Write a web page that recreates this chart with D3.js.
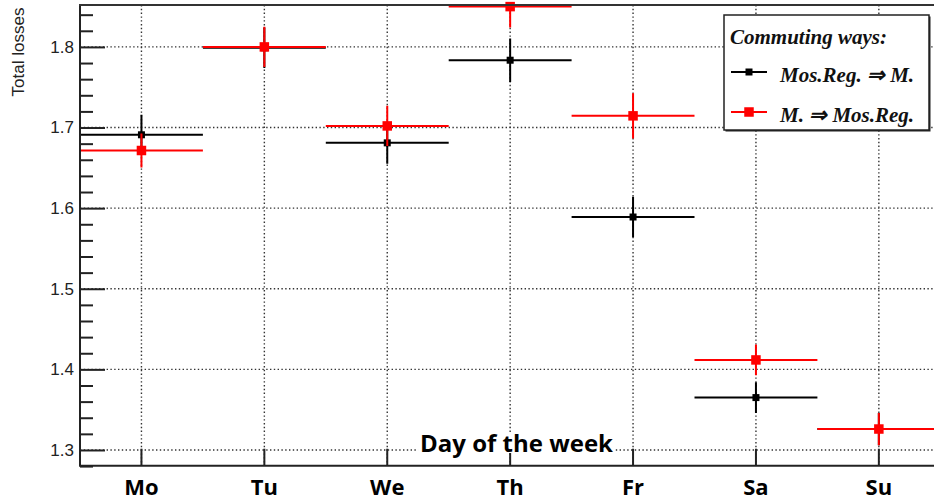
<!DOCTYPE html>
<html><head><meta charset="utf-8">
<script src="https://cdn.jsdelivr.net/npm/d3@7"></script>
<style>body{margin:0;background:#fff}svg{display:block}</style>
</head><body>
<svg id="c" width="934" height="501"></svg>
<script>
const days = ["Mo","Tu","We","Th","Fr","Sa","Su"];
const blackVals = [1.691,1.799,1.681,1.7835,1.589,1.365,1.326];
const blackErr  = [0.025,0.025,0.026,0.027,0.025,0.019,0.020];
const redVals   = [1.6715,1.800,1.702,1.850,1.7145,1.4117,1.326];
const redErr    = [0.021,0.025,0.025,0.026,0.028,0.019,0.020];
const yTicks = [1.3,1.4,1.5,1.6,1.7,1.8];
const seriesNames = ["Mos.Reg. \u21D2 M.","M. \u21D2 Mos.Reg."];
const legendTitle = "Commuting ways:";

const svg = d3.select("#c");
const L = 80, T = 5, B = 465.7, R = 940.3;
const x = d3.scaleBand().domain(days).range([L,R]).paddingInner(0).paddingOuter(0);
const y = d3.scaleLinear().domain([1.2805,1.852]).range([B,T]);

svg.append("defs").append("clipPath").attr("id","pc")
  .append("rect").attr("x",L).attr("y",T).attr("width",R-L).attr("height",B-T);

// grid
const grid = svg.append("g").attr("stroke","#333").attr("stroke-width",1.4).attr("stroke-dasharray","1.4,2.4");
grid.selectAll("line.h").data(yTicks).join("line").attr("class","h")
  .attr("x1",L).attr("x2",R).attr("y1",d=>y(d)).attr("y2",d=>y(d));
grid.selectAll("line.v").data(days).join("line").attr("class","v")
  .attr("x1",d=>x(d)+x.bandwidth()/2).attr("x2",d=>x(d)+x.bandwidth()/2).attr("y1",T).attr("y2",B);

// y axis
const yMinor = d3.range(1.28,1.8501,0.02).map(v=>+v.toFixed(2));
const yAx = d3.axisLeft(y).tickValues(yTicks).tickSize(-25).tickFormat(d3.format(".1f")).tickPadding(6);
const gy = svg.append("g").attr("transform",`translate(${L},0)`).call(yAx);
gy.select(".domain").remove();
gy.selectAll(".tick line").attr("stroke","#222").attr("stroke-width",2);
gy.selectAll(".tick text").attr("font-family","Liberation Sans, Arial, sans-serif").attr("font-size",17).attr("fill","#222");
const gyMinor = svg.append("g").attr("transform",`translate(${L},0)`)
  .call(d3.axisLeft(y).tickValues(yMinor.filter(v=>!yTicks.some(t=>Math.abs(t-v)<1e-6))).tickSize(-13).tickFormat(""));
gyMinor.select(".domain").remove();
gyMinor.selectAll(".tick line").attr("stroke","#222").attr("stroke-width",2);

// x axis
const xAx = d3.axisBottom(x).tickSize(-17).tickPadding(14);
const gx = svg.append("g").attr("transform",`translate(0,${B})`).call(xAx);
gx.select(".domain").remove();
gx.selectAll(".tick line").attr("stroke","#222").attr("stroke-width",2);
gx.selectAll(".tick text").attr("font-family","Open Sans, sans-serif").attr("font-weight","bold").attr("font-size",22).attr("fill","#000");

// data
function drawSeries(vals, errs, color, msize){
  const g = svg.append("g");
  const gl = g.append("g").attr("clip-path","url(#pc)").attr("stroke",color).attr("stroke-width",2);
  gl.selectAll("line.hz").data(days).join("line").attr("class","hz")
    .attr("x1",d=>x(d)).attr("x2",d=>x(d)+x.bandwidth())
    .attr("y1",(d,i)=>y(vals[i])).attr("y2",(d,i)=>y(vals[i]));
  gl.selectAll("line.vt").data(days).join("line").attr("class","vt")
    .attr("x1",d=>x(d)+x.bandwidth()/2).attr("x2",d=>x(d)+x.bandwidth()/2)
    .attr("y1",(d,i)=>y(vals[i]+errs[i])).attr("y2",(d,i)=>y(vals[i]-errs[i]));
  g.selectAll("rect").data(days).join("rect")
    .attr("x",d=>x(d)+x.bandwidth()/2-msize/2).attr("y",(d,i)=>y(vals[i])-msize/2)
    .attr("width",msize).attr("height",msize).attr("fill",color);
}
drawSeries(blackVals, blackErr, "#000", 7);
drawSeries(redVals, redErr, "#ff0000", 9.5);

// frame
svg.append("line").attr("x1",L).attr("x2",L).attr("y1",T).attr("y2",B).attr("stroke","#222").attr("stroke-width",2);
svg.append("line").attr("x1",L-1).attr("x2",R).attr("y1",B).attr("y2",B).attr("stroke","#222").attr("stroke-width",2);
svg.append("line").attr("x1",L-1).attr("x2",R).attr("y1",T).attr("y2",T).attr("stroke","#333").attr("stroke-width",2.2);

// axis titles
svg.append("text").attr("transform","translate(24,52) rotate(-90)").attr("text-anchor","middle")
  .attr("font-family","Liberation Sans, Arial, sans-serif").attr("font-size",17).attr("fill","#222").text("Total losses");
const xt = svg.append("text").attr("x",516.5).attr("y",452).attr("text-anchor","middle")
  .attr("font-family","Open Sans, sans-serif").attr("font-weight","bold").attr("font-size",24).attr("fill","#000").text("Day of the week");
const bb = xt.node().getBBox();
svg.insert("rect", () => xt.node()).attr("x",bb.x-2).attr("y",bb.y+6).attr("width",bb.width+4).attr("height",bb.height-12).attr("fill","#fff");

// legend
const lg = svg.append("g");
lg.append("rect").attr("x",725.5).attr("y",16.5).attr("width",205).attr("height",115).attr("fill","#222");
lg.append("rect").attr("x",724).attr("y",15).attr("width",205).attr("height",115).attr("fill","#fff").attr("stroke","#222").attr("stroke-width",1.5);
const serif = "Liberation Serif, Times New Roman, serif";
lg.append("text").attr("x",730).attr("y",44).attr("font-family",serif).attr("font-style","italic").attr("font-weight","bold")
  .attr("font-size",21).attr("fill","#111").text(legendTitle);
const legCols = ["#000","#ff0000"], legM=[7,9.5], legY=[72,112];
seriesNames.forEach((n,i)=>{
  lg.append("line").attr("x1",731).attr("x2",767).attr("y1",legY[i]).attr("y2",legY[i]).attr("stroke",legCols[i]).attr("stroke-width",2);
  lg.append("rect").attr("x",749-legM[i]/2).attr("y",legY[i]-legM[i]/2).attr("width",legM[i]).attr("height",legM[i]).attr("fill",legCols[i]);
  lg.append("text").attr("x",780).attr("y",legY[i]+10).attr("font-family",serif).attr("font-style","italic").attr("font-weight","bold")
    .attr("font-size",21).attr("fill","#111").text(n);
});
</script>
</body></html>
